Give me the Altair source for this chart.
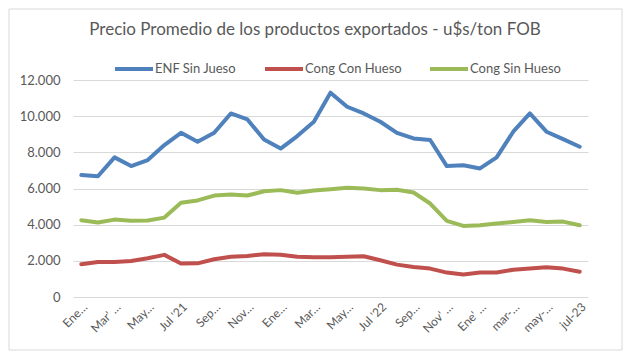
import json
import altair as alt
import pandas as pd

series_names = ["ENF Sin Jueso", "Cong Con Hueso", "Cong Sin Hueso"]
series_colors = ["#4F81BD", "#C0504D", "#9BBB59"]

tick_labels = ["Ene…", "Mar' …", "May…", "Jul '21", "Sep…", "Nov…", "Ene…", "Mar…",
               "May…", "Jul '22", "Sep…", "Nov' …", "Ene' …", "mar-…", "may-…", "jul-23"]

enf_sin_jueso = [6740, 6680, 7720, 7240, 7570, 8400, 9080, 8580, 9080, 10150, 9820,
                 8710, 8210, 8900, 9690, 11300, 10520, 10150, 9690, 9080, 8770,
                 8680, 7240, 7290, 7110, 7720, 9140, 10150, 9140, 8730, 8310]
cong_con_hueso = [1810, 1940, 1940, 1990, 2140, 2330, 1850, 1860, 2090, 2220, 2270,
                  2360, 2340, 2220, 2200, 2200, 2220, 2250, 2030, 1790, 1660,
                  1570, 1350, 1240, 1350, 1350, 1510, 1570, 1640, 1570, 1400]
cong_sin_hueso = [4250, 4120, 4280, 4210, 4230, 4390, 5210, 5340, 5610, 5670, 5610,
                  5850, 5910, 5760, 5890, 5960, 6040, 6000, 5910, 5930, 5780,
                  5170, 4210, 3930, 3970, 4060, 4150, 4250, 4150, 4170, 3970]

rows = []
for name, vals in zip(series_names, [enf_sin_jueso, cong_con_hueso, cong_sin_hueso]):
    for i, v in enumerate(vals):
        rows.append({"idx": i, "serie": name, "valor": v})
df = pd.DataFrame(rows)

FONT = "Lato"
GREY = "#595959"

label_expr = "[" + ",".join(json.dumps(l) for l in tick_labels) + "][datum.value / 2]"

lines = alt.Chart(df).mark_line(strokeWidth=4, strokeCap="round", strokeJoin="round").encode(
    x=alt.X("idx:O", title=None,
            axis=alt.Axis(values=list(range(0, 31, 2)), labelExpr=label_expr, labelAngle=-45,
                          labelColor=GREY, labelFont=FONT, labelFontSize=12, ticks=False,
                          domain=False, grid=False, labelPadding=4)),
    y=alt.Y("valor:Q", title=None,
            scale=alt.Scale(domain=[0, 12000], nice=False),
            axis=alt.Axis(values=list(range(0, 12001, 2000)),
                          labelExpr="replace(format(datum.value, ','), ',', '.')",
                          labelColor=GREY, labelFont=FONT, labelFontSize=13, ticks=False,
                          domain=False, gridColor="#D9D9D9", labelPadding=13)),
    color=alt.Color("serie:N", title=None,
                    scale=alt.Scale(domain=series_names, range=series_colors),
                    legend=alt.Legend(orient="none", legendX=40, legendY=-32, direction="horizontal",
                                      symbolType="stroke", symbolSize=1444, symbolStrokeWidth=4,
                                      labelFont=FONT, labelFontSize=13, labelColor=GREY,
                                      labelOffset=0, columnPadding=20, columns=3)),
)

frame_df = pd.DataFrame({"k": [0]})
frame = alt.Chart(frame_df).mark_rect(fill=None, stroke="#D9D9D9", strokeWidth=1).encode(
    x=alt.value(-64), x2=alt.value(549), y=alt.value(-71), y2=alt.value(270)
)

title_df = pd.DataFrame({"t": ["Precio Promedio de los productos exportados - u$s/ton FOB"]})
title = alt.Chart(title_df).mark_text(font=FONT, fontSize=17, color=GREY, align="center",
                                      baseline="middle").encode(
    text="t:N", x=alt.value(242), y=alt.value(-50)
)

chart = alt.layer(frame, lines, title).properties(
    width=515, height=217,
    autosize=alt.AutoSizeParams(type="none"),
    padding={"left": 65, "top": 72, "right": 35, "bottom": 54},
).configure_view(stroke=None)

chart.save("out.html", embed_options={"renderer": "svg", "actions": False})
